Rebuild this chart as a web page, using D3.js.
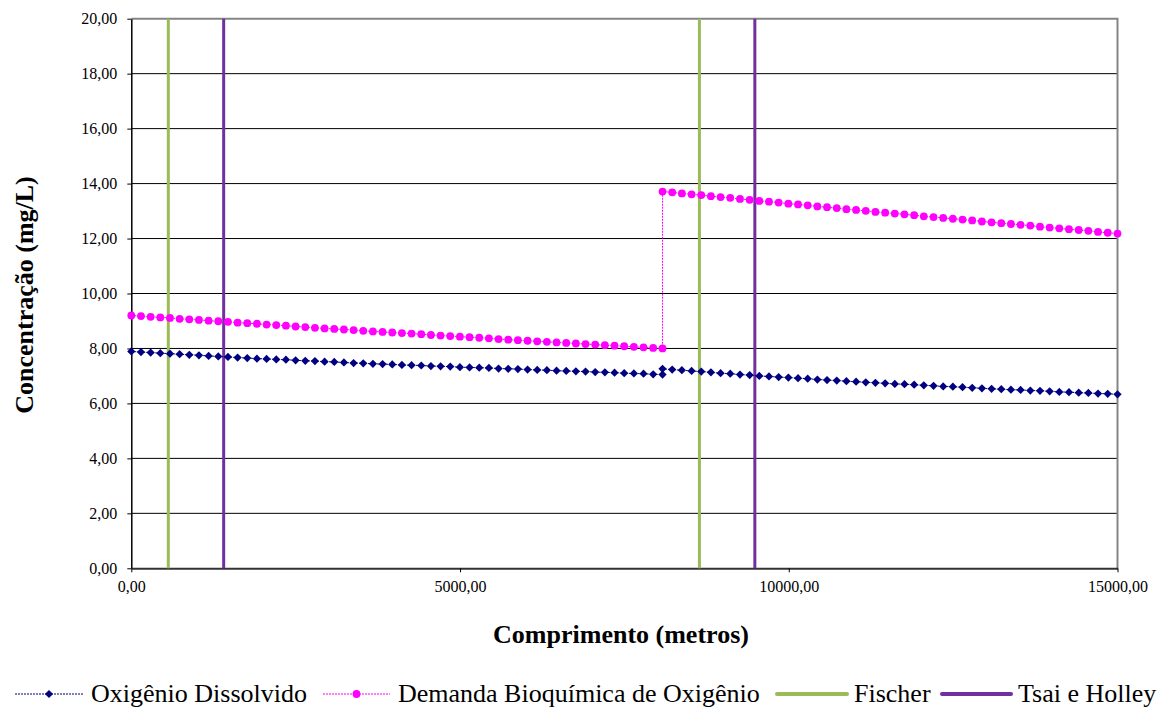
<!DOCTYPE html>
<html>
<head>
<meta charset="utf-8">
<script src="https://cdn.jsdelivr.net/npm/d3@7"></script>
<style>
  body { margin: 0; background: #ffffff; }
  svg text { font-family: "Liberation Serif", "Times New Roman", Times, "DejaVu Serif", serif !important; }
</style>
</head>
<body>
<div id="grafico"></div>
<script>
// distance along the river (m): first reach, then after the discharge point
var trecho1 = [0,147,294,441,588,735,882,1029,1176,1323,1470,1617,1764,1911,2058,2205,2352,2499,2646,2793,
  2940,3087,3234,3381,3528,3675,3822,3969,4116,4263,4410,4557,4704,4851,4998,5145,5292,5439,5586,5733,
  5880,6027,6174,6321,6468,6615,6762,6909,7056,7203,7350,7497,7644,7791,7938,8080];
var trecho2 = [8080,8227,8374,8522,8669,8816,8963,9110,9258,9405,9552,9699,9846,9994,10141,10288,10435,10582,
  10730,10877,11024,11171,11318,11466,11613,11760,11907,12054,12202,12349,12496,12643,12790,12938,13085,
  13232,13379,13526,13674,13821,13968,14115,14262,14410,14557,14704,14851,15000];

var od1 = [7.89,7.87,7.85,7.83,7.81,7.79,7.77,7.75,7.73,7.71,7.69,7.67,7.65,7.63,7.62,7.60,7.59,7.57,7.55,7.54,
  7.52,7.51,7.49,7.47,7.46,7.44,7.43,7.42,7.40,7.39,7.38,7.36,7.35,7.34,7.32,7.31,7.30,7.29,7.27,7.26,
  7.25,7.23,7.22,7.21,7.19,7.18,7.17,7.16,7.14,7.13,7.12,7.10,7.09,7.08,7.06,7.05];
var od2 = [7.26,7.23,7.21,7.18,7.16,7.13,7.10,7.08,7.05,7.03,7.00,6.98,6.96,6.94,6.92,6.90,6.87,6.85,6.83,6.81,
  6.79,6.77,6.75,6.73,6.71,6.70,6.68,6.66,6.64,6.62,6.61,6.59,6.57,6.55,6.53,6.52,6.50,6.49,6.47,6.46,
  6.44,6.42,6.41,6.39,6.38,6.36,6.35,6.33];

var dbo1 = [9.20,9.18,9.15,9.13,9.11,9.08,9.06,9.04,9.01,8.99,8.97,8.94,8.92,8.90,8.87,8.85,8.83,8.80,8.78,8.75,
  8.73,8.71,8.69,8.67,8.64,8.62,8.60,8.58,8.56,8.54,8.52,8.49,8.47,8.45,8.43,8.41,8.39,8.37,8.34,8.32,
  8.30,8.28,8.26,8.24,8.22,8.20,8.18,8.16,8.14,8.12,8.10,8.08,8.06,8.04,8.02,8.00];
var dbo2 = [13.71,13.68,13.64,13.61,13.58,13.54,13.51,13.48,13.44,13.41,13.37,13.34,13.31,13.27,13.24,13.21,
  13.17,13.14,13.11,13.07,13.04,13.01,12.97,12.94,12.91,12.88,12.85,12.81,12.78,12.75,12.72,12.69,12.66,
  12.62,12.59,12.56,12.53,12.50,12.47,12.43,12.40,12.37,12.34,12.31,12.28,12.24,12.21,12.18];

// mixing lengths
var fischer = [563, 8641];
var tsai = [1405, 9484];

var yTicks = [0,2,4,6,8,10,12,14,16,18,20];
var xTicks = [0,5000,10000,15000];

var legenda = ["Oxigênio Dissolvido", "Demanda Bioquímica de Oxigênio", "Fischer", "Tsai e Holley"];

var W = 1163, H = 707;
var serifa = "'Liberation Serif', 'Times New Roman', Times, 'DejaVu Serif', serif";
var virgula = function(v) { return v.toFixed(2).replace(".", ","); };

var svg = d3.select("#grafico")
  .append("svg")
  .attr("width", W)
  .attr("height", H)
  .attr("font-family", serifa);

var x = d3.scaleLinear().domain([0, 15000]).range([131.3, 1117.5]);
var y = d3.scaleLinear().domain([0, 20]).range([568.3, 18.7]);

var dist = trecho1.concat(trecho2);
var od = od1.concat(od2).map(function(v, i) { return [dist[i], v]; });
var dbo = dbo1.concat(dbo2).map(function(v, i) { return [dist[i], v]; });

// grid
svg.append("g")
  .selectAll("line")
  .data(yTicks.filter(function(d) { return d > 0 && d < 20; }))
  .enter()
  .append("line")
  .attr("x1", x(0)).attr("x2", x(15000))
  .attr("y1", function(d) { return y(d); })
  .attr("y2", function(d) { return y(d); })
  .attr("stroke", "#000")
  .attr("stroke-width", 1);

// gray frame top / right
svg.append("path")
  .attr("d", "M" + x(0) + "," + y(20) + "H" + x(15000) + "V" + y(0))
  .attr("fill", "none")
  .attr("stroke", "#858585")
  .attr("stroke-width", 2);

// axes
var eixoY = svg.append("g")
  .attr("transform", "translate(" + x(0) + ",0)")
  .call(d3.axisLeft(y).tickValues(yTicks).tickFormat(virgula).tickSize(4).tickSizeOuter(0));
eixoY.attr("font-family", serifa);
eixoY.select(".domain").attr("stroke", "#000").attr("stroke-width", 1.5);
eixoY.selectAll(".tick line").attr("stroke", "#000");
eixoY.selectAll("text")
  .attr("x", -14)
  .attr("dy", "0.33em")
  .attr("font-size", 16)
  .attr("fill", "#000");

var eixoX = svg.append("g")
  .attr("transform", "translate(0," + y(0) + ")")
  .call(d3.axisBottom(x).tickValues(xTicks).tickFormat(virgula).tickSize(4).tickSizeOuter(0));
eixoX.attr("font-family", serifa);
eixoX.select(".domain").attr("stroke", "#333").attr("stroke-width", 2);
eixoX.selectAll(".tick line").attr("stroke", "#000");
eixoX.selectAll("text")
  .attr("y", 12)
  .attr("dy", "0.71em")
  .attr("font-size", 16)
  .attr("fill", "#000");

// mixing length lines
function vertical(vals, cor) {
  svg.append("g")
    .selectAll("line")
    .data(vals)
    .enter()
    .append("line")
    .attr("x1", function(d) { return x(d); })
    .attr("x2", function(d) { return x(d); })
    .attr("y1", y(0)).attr("y2", y(20))
    .attr("stroke", cor)
    .attr("stroke-width", 3);
}
vertical(fischer, "#9BBB59");
vertical(tsai, "#7030A0");

var linha = d3.line()
  .x(function(d) { return x(d[0]); })
  .y(function(d) { return y(d[1]); });

svg.append("path")
  .datum(dbo)
  .attr("d", linha)
  .attr("fill", "none")
  .attr("stroke", "#FF00FF")
  .attr("stroke-width", 1)
  .attr("stroke-dasharray", "2,1");

svg.append("g")
  .selectAll("circle")
  .data(dbo)
  .enter()
  .append("circle")
  .attr("cx", function(d) { return x(d[0]); })
  .attr("cy", function(d) { return y(d[1]); })
  .attr("r", 3.9)
  .attr("fill", "#FF00FF");

svg.append("path")
  .datum(od)
  .attr("d", linha)
  .attr("fill", "none")
  .attr("stroke", "#000080")
  .attr("stroke-width", 1)
  .attr("stroke-dasharray", "2,1");

var losango = d3.symbol().type(d3.symbolSquare).size(34);
svg.append("g")
  .selectAll("path")
  .data(od)
  .enter()
  .append("path")
  .attr("d", losango)
  .attr("transform", function(d) { return "translate(" + x(d[0]) + "," + y(d[1]) + ") rotate(45)"; })
  .attr("fill", "#000080");

// axis titles
svg.append("text")
  .attr("x", 621)
  .attr("y", 643)
  .attr("text-anchor", "middle")
  .attr("font-size", 26)
  .attr("font-weight", "bold")
  .text("Comprimento (metros)");

svg.append("text")
  .attr("transform", "translate(33,295) rotate(-90)")
  .attr("text-anchor", "middle")
  .attr("font-size", 26)
  .attr("font-weight", "bold")
  .text("Concentração (mg/L)");

// legend
var itens = [
  { x1: 15, x2: 83, cor: "#000080", esp: 1, marca: "d", tx: 91 },
  { x1: 323, x2: 390, cor: "#FF00FF", esp: 1, marca: "c", tx: 398 },
  { x1: 777, x2: 847, cor: "#9BBB59", esp: 4, marca: "", tx: 854 },
  { x1: 942, x2: 1011, cor: "#7030A0", esp: 4, marca: "", tx: 1018 }
];
var ly = 694;
var leg = svg.append("g")
  .selectAll("g")
  .data(itens)
  .enter()
  .append("g");

leg.append("line")
  .attr("x1", function(d) { return d.x1; })
  .attr("x2", function(d) { return d.x2; })
  .attr("y1", ly).attr("y2", ly)
  .attr("stroke", function(d) { return d.cor; })
  .attr("stroke-width", function(d) { return d.esp; })
  .attr("stroke-linecap", function(d) { return d.esp > 1 ? "round" : "butt"; })
  .attr("stroke-dasharray", function(d) { return d.esp > 1 ? null : "2,1"; });

leg.filter(function(d) { return d.marca == "c"; })
  .append("circle")
  .attr("cx", function(d) { return (d.x1 + d.x2) / 2; })
  .attr("cy", ly)
  .attr("r", 3.9)
  .attr("fill", function(d) { return d.cor; });

leg.filter(function(d) { return d.marca == "d"; })
  .append("path")
  .attr("d", losango)
  .attr("transform", function(d) { return "translate(" + (d.x1 + d.x2) / 2 + "," + ly + ") rotate(45)"; })
  .attr("fill", function(d) { return d.cor; });

leg.append("text")
  .attr("x", function(d) { return d.tx; })
  .attr("y", 702)
  .attr("font-size", 26)
  .attr("fill", "#000")
  .text(function(d, i) { return legenda[i]; });
</script>
</body>
</html>
